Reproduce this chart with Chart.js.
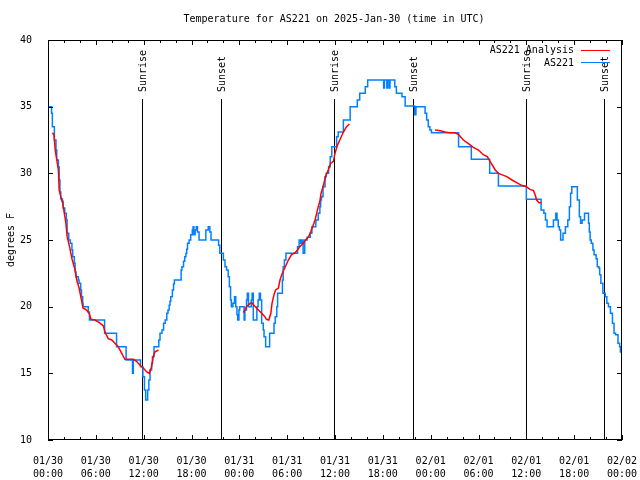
<!DOCTYPE html>
<html>
<head>
<meta charset="utf-8">
<title>Temperature for AS221</title>
<script src="https://cdn.jsdelivr.net/npm/chart.js@4.4.0/dist/chart.umd.min.js"></script>
<style>
  body { margin: 0; background: #fff; }
  canvas { display: block; }
</style>
</head>
<body>
<canvas id="temp-chart" width="640" height="480"></canvas>
<script>
/* ── Data (hours since 01/30 00:00 UTC, degrees F) ── */
const xTickLabels = [
  ['01/30', '00:00'], ['01/30', '06:00'], ['01/30', '12:00'], ['01/30', '18:00'],
  ['01/31', '00:00'], ['01/31', '06:00'], ['01/31', '12:00'], ['01/31', '18:00'],
  ['02/01', '00:00'], ['02/01', '06:00'], ['02/01', '12:00'], ['02/01', '18:00'],
  ['02/02', '00:00']
];

const sunHours = [11.8, 21.66, 35.92, 45.74, 60.0, 69.78];
const sunLabels = ['Sunrise', 'Sunset', 'Sunrise', 'Sunset', 'Sunrise', 'Sunset'];

const obsHours = [
  0, 0.45, 0.55, 0.8, 1.0, 1.1, 1.3, 1.4, 1.5, 1.6, 1.8, 1.9, 2.1, 2.3, 2.4, 2.6, 2.8, 3.0, 3.1, 3.3,
  3.4, 3.5, 3.8, 3.9, 4.1, 4.2, 4.35, 4.4, 5.05, 5.2, 7.1, 8.6, 9.8, 10.6, 10.7, 11.6, 11.9, 12.1, 12.25, 12.5,
  12.65, 12.8, 13.0, 13.1, 13.3, 13.9, 14.05, 14.3, 14.5, 14.7, 14.9, 15.05, 15.2, 15.3, 15.4, 15.6, 15.75, 15.85, 16.7, 16.8,
  17.0, 17.15, 17.3, 17.4, 17.5, 17.7, 17.9, 18.1, 18.2, 18.3, 18.45, 18.6, 18.75, 18.95, 19.8, 20.1, 20.3, 20.45, 21.4, 21.55,
  22.0, 22.2, 22.4, 22.6, 22.75, 22.9, 23.0, 23.2, 23.4, 23.55, 23.7, 23.8, 23.95, 24.05, 24.6, 24.7, 24.9, 25.0, 25.15, 25.5,
  25.6, 25.75, 26.2, 26.35, 26.5, 26.65, 26.8, 27.0, 27.1, 27.3, 27.8, 28.35, 28.5, 28.7, 28.8, 29.4, 29.5, 29.65, 29.85, 31.3,
  31.5, 31.7, 31.85, 32.0, 32.2, 32.5, 32.9, 33.1, 33.6, 33.9, 34.1, 34.2, 34.3, 34.5, 34.75, 34.9, 35.2, 35.4, 35.6, 36.2,
  36.4, 37.05, 37.9, 38.8, 39.1, 39.8, 40.1, 42.1, 42.2, 42.5, 42.6, 42.8, 42.9, 43.5, 43.7, 44.4, 44.8, 46.0, 46.15, 47.3,
  47.5, 47.7, 47.9, 48.1, 51.5, 53.1, 55.4, 56.5, 60.0, 61.85, 62.2, 62.4, 62.6, 63.4, 63.7, 63.85, 64.0, 64.15, 64.3, 64.6,
  64.9, 65.2, 65.4, 65.55, 65.7, 66.4, 66.65, 66.8, 67.0, 67.3, 67.8, 67.9, 68.0, 68.15, 68.35, 68.5, 68.75, 68.9, 69.1, 69.2,
  69.35, 69.6, 69.9, 70.1, 70.3, 70.55, 70.8, 71.0, 71.2, 71.5, 71.7, 71.8, 72
];
const obsTemps = [
  35, 34.5, 33.5, 32.5, 31.75, 31, 30.5, 29.5, 28.6, 28.1, 27.9, 27.4, 27, 26.5, 25.5, 25, 24.75, 24.25, 23.75, 23.25,
  22.6, 22.25, 22, 21.75, 21.25, 20.75, 20.25, 20, 19.6, 19, 18, 17, 16, 15, 16, 15.5, 14.75, 13.75, 13, 13.75,
  14.5, 15.25, 15.75, 16.25, 17, 17.5, 18, 18.25, 18.75, 19, 19.5, 19.75, 20.1, 20.4, 20.75, 21.25, 21.7, 22, 22.75, 23,
  23.4, 23.75, 24, 24.3, 24.75, 25, 25.4, 25.75, 26, 25.4, 25.75, 26, 25.6, 25, 25.75, 26, 25.6, 25, 24.6, 24,
  23.5, 23, 22.75, 22.25, 21.5, 20.5, 20, 20.25, 20.75, 20, 19.4, 19, 19.75, 20, 19, 19.75, 20.5, 21, 20, 20.5,
  21, 19, 20, 20.5, 21, 20.5, 18.75, 18.25, 17.75, 17, 18, 18.75, 19.25, 20, 21, 22, 23, 23.5, 24, 24.5,
  25, 24.75, 25, 24, 25, 25.2, 25.5, 26, 26.5, 27, 27.5, 28, 28.25, 29, 29.75, 30, 30.5, 31.25, 32, 32.75,
  33.1, 34, 35, 35.5, 36, 36.5, 37, 36.4, 37, 36.4, 37, 36.4, 37, 36.5, 36, 35.75, 35.05, 34.4, 35, 34.5,
  34, 33.5, 33.25, 33.05, 32, 31.05, 30, 29.05, 28.05, 27.25, 27, 26.5, 26, 26.5, 27, 26.5, 26, 25.75, 25, 25.5,
  26, 26.5, 27.5, 28.5, 29, 28, 26.75, 26.25, 26.5, 27, 26.25, 25.6, 25, 24.75, 24.25, 23.9, 23.6, 23, 22.9, 22.4,
  21.75, 21, 20.75, 20.25, 20, 19.5, 18.75, 18, 17.9, 17.25, 17, 16.6, 16.25
];

// analysis series, null marks a gap between runs
const anaHours = [
  0.55, 0.75, 0.9, 1.1, 1.3, 1.4, 1.6, 1.85, 2.05, 2.25, 2.4, 2.7, 3.0, 3.4, 3.6, 3.9, 4.2, 4.4, 4.85, 5.15,
  5.4, 5.9, 6.45, 6.95, 7.15, 7.55, 8.0, 8.4, 8.8, 9.25, 9.65, 10.7, 11.1, 11.55, 11.95, 12.4, 12.7, 13.0, 13.2, 13.4,
  13.85, 19,
  24.5, 24.9, 25.35, 25.55, 26.0, 26.4, 26.8, 27.2, 27.4, 27.7, 27.95, 28.1, 28.35, 28.55, 28.9, 29.1, 29.45, 29.7, 30.15, 30.55,
  31.0, 31.3, 31.6, 32.0, 32.4, 32.65, 32.95, 33.2, 33.5, 33.7, 33.9, 34.1, 34.25, 34.55, 34.8, 35.15, 35.45, 35.8, 36.0, 36.3,
  36.6, 37.05, 37.45, 37.8, 43,
  48.55, 49.2, 49.8, 50.4, 51.05, 51.5, 52.1, 52.7, 53.35, 54.0, 54.6, 55.1, 55.45, 55.8, 56.1, 56.5, 56.9, 57.55, 58.2, 58.8,
  59.4, 60.0, 60.45, 60.9, 61.1, 61.3, 61.6, 61.9
];
const anaTemps = [
  33.05, 32.9, 31.75, 31, 30.25, 28.75, 28.25, 27.75, 27, 26.25, 25.25, 24.5, 23.6, 22.75, 22, 21.4, 20.5, 19.9, 19.75, 19.5,
  19.05, 19, 18.8, 18.55, 18.1, 17.6, 17.5, 17.25, 17.0, 16.5, 16.05, 16.05, 15.9, 15.6, 15.4, 15.1, 15.0, 15.5, 16.25, 16.6,
  16.75, null,
  19.55, 20, 20.25, 20.3, 20, 19.75, 19.5, 19.25, 19.05, 19.0, 19.5, 20.25, 20.9, 21.25, 21.4, 22, 22.6, 22.9, 23.5, 23.9,
  24.05, 24.25, 24.5, 24.75, 25.05, 25.2, 25.6, 26, 26.5, 27, 27.5, 27.9, 28.5, 29.1, 29.75, 30.25, 30.75, 30.9, 31.5, 32.1,
  32.5, 33.1, 33.5, 33.7, null,
  33.25, 33.2, 33.1, 33.05, 33.05, 32.9, 32.5, 32.25, 31.95, 31.75, 31.4, 31.25, 30.9, 30.55, 30.25, 30, 29.9, 29.75, 29.5, 29.3,
  29.1, 29.0, 28.8, 28.7, 28.4, 28.0, 27.8, 27.8
];

const FONT = '"DejaVu Sans Mono", "Liberation Mono", monospace';
const RED = '#ff0000';
const BLUE = '#0080ff';

/* ── Frame, ticks, sun lines, title, legend ── */
const gnuFrame = {
  id: 'gnuFrame',
  beforeDatasetsDraw(chart) {
    const { ctx, chartArea: a, scales: { x } } = chart;
    ctx.save();
    ctx.strokeStyle = '#000';
    ctx.lineWidth = 1;
    sunHours.forEach(h => {
      const px = Math.round(x.getPixelForValue(h)) + 0.5;
      ctx.beginPath();
      ctx.moveTo(px, 99);
      ctx.lineTo(px, a.bottom);
      ctx.stroke();
    });
    ctx.restore();
  },
  afterDatasetsDraw(chart) {
    const { ctx, chartArea: a, scales: { x, y } } = chart;
    ctx.save();
    ctx.strokeStyle = '#000';
    ctx.lineWidth = 1;

    // border
    ctx.strokeRect(a.left + 0.5, a.top + 0.5, a.right - a.left - 1, a.bottom - a.top - 1);

    // x ticks: major every 6h, minor every 2h, bottom and top
    ctx.beginPath();
    for (let h = 0; h <= 72; h += 2) {
      const px = Math.round(x.getPixelForValue(h)) + 0.5;
      const len = h % 6 === 0 ? 5 : 3;
      ctx.moveTo(px, a.bottom);
      ctx.lineTo(px, a.bottom - len);
      ctx.moveTo(px, a.top);
      ctx.lineTo(px, a.top + len);
    }
    // y ticks every 5, left and right
    for (let v = 10; v <= 40; v += 5) {
      const py = Math.round(y.getPixelForValue(v)) + 0.5;
      ctx.moveTo(a.left, py);
      ctx.lineTo(a.left + 5, py);
      ctx.moveTo(a.right, py);
      ctx.lineTo(a.right - 5, py);
    }
    ctx.stroke();

    ctx.fillStyle = '#000';
    ctx.font = '10px ' + FONT;

    // sun labels
    sunHours.forEach((h, i) => {
      const px = Math.round(x.getPixelForValue(h)) + 1;
      ctx.save();
      ctx.translate(px, 92);
      ctx.rotate(-Math.PI / 2);
      ctx.textAlign = 'left';
      ctx.textBaseline = 'middle';
      ctx.fillText(sunLabels[i], 0, 0);
      ctx.restore();
    });

    // title
    ctx.textAlign = 'center';
    ctx.textBaseline = 'middle';
    ctx.fillText('Temperature for AS221 on 2025-Jan-30 (time in UTC)', 334, 19);

    // y axis label
    ctx.save();
    ctx.translate(11, 240);
    ctx.rotate(-Math.PI / 2);
    ctx.fillText('degrees F', 0, 0);
    ctx.restore();

    // legend
    ctx.textAlign = 'right';
    ctx.fillText('AS221 Analysis', 574, 50);
    ctx.fillText('AS221', 574, 63);
    ctx.strokeStyle = RED;
    ctx.beginPath(); ctx.moveTo(581, 50.5); ctx.lineTo(610, 50.5); ctx.stroke();
    ctx.strokeStyle = BLUE;
    ctx.beginPath(); ctx.moveTo(581, 62.5); ctx.lineTo(610, 62.5); ctx.stroke();

    ctx.restore();
  }
};

/* ── Chart ── */
new Chart(document.getElementById('temp-chart'), {
  type: 'line',
  data: {
    datasets: [
      {
        label: 'AS221 Analysis',
        data: anaHours.map((h, i) => ({ x: h, y: anaTemps[i] })),
        borderColor: RED,
        borderWidth: 1.5,
        pointRadius: 0,
        tension: 0,
        spanGaps: false
      },
      {
        label: 'AS221',
        data: obsHours.map((h, i) => ({ x: h, y: obsTemps[i] })),
        borderColor: BLUE,
        borderWidth: 1.5,
        pointRadius: 0,
        stepped: 'before'
      }
    ]
  },
  options: {
    responsive: false,
    animation: false,
    events: [],
    layout: { padding: { top: 40, right: 18, left: 0, bottom: 0 } },
    plugins: {
      legend: { display: false },
      title: { display: false },
      tooltip: { enabled: false }
    },
    scales: {
      x: {
        type: 'linear',
        min: 0,
        max: 72,
        grid: { display: false },
        border: { display: false },
        afterFit: s => { s.height = 40; s.paddingLeft = 0; s.paddingRight = 0; },
        ticks: {
          stepSize: 6,
          autoSkip: false,
          maxRotation: 0,
          padding: 7,
          color: '#000',
          font: { family: FONT, size: 10, lineHeight: 1.3 },
          callback: v => xTickLabels[Math.round(v / 6)]
        }
      },
      y: {
        min: 10,
        max: 40,
        grid: { display: false },
        border: { display: false },
        afterFit: s => { s.width = 48; s.paddingTop = 0; s.paddingBottom = 0; },
        ticks: {
          stepSize: 5,
          padding: 8,
          color: '#000',
          font: { family: FONT, size: 10 }
        }
      }
    }
  },
  plugins: [gnuFrame]
});
</script>
</body>
</html>
